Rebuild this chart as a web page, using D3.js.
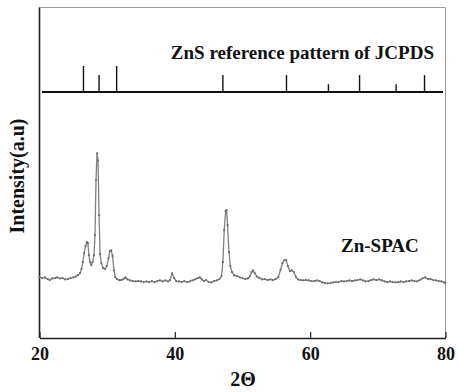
<!DOCTYPE html>
<html>
<head>
<meta charset="utf-8">
<script src="https://cdn.jsdelivr.net/npm/d3@7"></script>
<style>
  html, body { margin: 0; padding: 0; background: #fff; }
  svg text { font-family: "Liberation Serif", "Times New Roman", serif; font-weight: bold; fill: #111; }
</style>
</head>
<body>
<svg id="chart" width="459" height="392"></svg>
<script>
// ---- data ----
const twoTheta = [20.0,20.4,20.8,21.2,21.5,21.9,22.3,22.6,23.0,23.4,23.8,24.2,24.6,25.0,25.4,25.7,26.0,26.2,26.4,26.6,26.8,27.0,27.15,27.3,27.45,27.65,27.85,28.05,28.2,28.35,28.5,28.65,28.8,28.95,29.15,29.4,29.7,29.95,30.2,30.4,30.6,30.8,31.0,31.2,31.45,31.8,32.1,32.4,32.7,33.0,33.4,33.8,34.2,34.6,35.0,35.4,35.8,36.2,36.6,37.0,37.4,37.8,38.2,38.6,39.0,39.3,39.6,39.9,40.2,40.6,41.0,41.4,41.8,42.2,42.6,43.0,43.4,43.7,44.0,44.3,44.6,45.0,45.4,45.8,46.2,46.6,46.9,47.1,47.3,47.5,47.65,47.8,48.0,48.2,48.45,48.8,49.2,49.6,50.0,50.4,50.8,51.1,51.35,51.55,51.8,52.1,52.5,52.9,53.3,53.7,54.1,54.5,54.9,55.3,55.6,55.9,56.2,56.45,56.7,57.0,57.3,57.6,57.9,58.2,58.6,59.0,59.4,59.8,60.2,60.6,61.0,61.4,61.8,62.2,62.6,63.0,63.4,63.8,64.2,64.6,65.0,65.4,65.8,66.2,66.6,67.0,67.4,67.8,68.2,68.6,69.0,69.4,69.8,70.2,70.6,71.0,71.4,71.8,72.2,72.6,73.0,73.4,73.8,74.2,74.6,75.0,75.4,75.8,76.2,76.6,77.0,77.4,77.8,78.2,78.6,79.0,79.4,79.8,80.0];
const intensity = [183,180,182,177,174,179,180,182,179,180,176,177,180,182,185,189,195,207,228,255,276,288,285,249,228,219,228,249,309,474,555,534,369,252,225,210,207,216,240,261,263,246,204,183,177,174,174,177,182,176,173,171,170,171,170,168,170,168,171,168,171,173,170,173,170,174,194,180,171,170,168,171,168,170,173,176,180,182,176,171,174,168,167,171,173,177,186,228,324,381,384,339,258,216,198,188,186,182,180,177,179,186,198,203,195,185,180,176,177,174,176,174,177,183,204,225,234,234,216,201,203,198,183,176,174,173,174,173,171,171,173,171,167,165,164,165,167,168,168,171,170,171,173,171,173,174,176,173,170,171,174,176,174,176,173,170,168,170,168,167,168,170,168,170,171,173,171,170,174,179,182,177,177,174,173,171,170,167,165,164];
const refPeaks = [26.5,28.8,31.4,47.1,56.5,62.7,67.3,72.7,76.9];
const refIntensity = [100,65,100,65,65,30,65,30,65];
const xTicks = [20,40,60,80];

// ---- layout ----
const svg = d3.select("#chart");
const mL = 39.5, mR = 445.5, mT = 7.5, mB = 338;

const x = d3.scaleLinear().domain([20, 80]).range([mL, mR]);
const y = d3.scaleLinear().domain([0, 993]).range([mB, mT]);
const refBase = 92;
const yRef = d3.scaleLinear().domain([0, 100]).range([refBase, refBase - 26]);

// frame: top & right light
svg.append("line").attr("x1", mL).attr("x2", mR).attr("y1", mT).attr("y2", mT)
  .attr("stroke", "#999").attr("stroke-width", 1);
svg.append("line").attr("x1", mR).attr("x2", mR).attr("y1", mT).attr("y2", mB)
  .attr("stroke", "#999").attr("stroke-width", 1);

// bottom axis with inward ticks
const xAxis = d3.axisBottom(x).tickValues(xTicks).tickSizeInner(-6).tickSizeOuter(0).tickPadding(9);
const gx = svg.append("g").attr("transform", `translate(0,${mB})`).call(xAxis);
gx.select(".domain").attr("stroke", "#222").attr("stroke-width", 1.6);
gx.selectAll(".tick line").attr("stroke", "#222").attr("stroke-width", 1.2);
gx.selectAll(".tick text").attr("font-size", 18).attr("fill", "#111")
  .attr("font-family", "Liberation Serif, serif").attr("font-weight", "bold");

// left axis line
svg.append("line").attr("x1", mL).attr("x2", mL).attr("y1", mT).attr("y2", mB)
  .attr("stroke", "#222").attr("stroke-width", 1.6);

// reference pattern
svg.append("line").attr("x1", 42).attr("x2", 443).attr("y1", refBase).attr("y2", refBase)
  .attr("stroke", "#111").attr("stroke-width", 2);
svg.selectAll(".ref").data(refPeaks).enter().append("line")
  .attr("x1", d => x(d)).attr("x2", d => x(d))
  .attr("y1", refBase).attr("y2", (d, i) => yRef(refIntensity[i]))
  .attr("stroke", "#111").attr("stroke-width", 1.4);

svg.append("text").attr("x", 434).attr("y", 59).attr("text-anchor", "end")
  .attr("font-size", 19).text("ZnS reference pattern of JCPDS");

// data curve
const pts = d3.zip(twoTheta, intensity);
const line = d3.line().x(d => x(d[0])).y(d => y(d[1]));
svg.append("path").datum(pts).attr("d", line)
  .attr("fill", "none").attr("stroke", "#808080").attr("stroke-width", 1.3);
svg.selectAll(".pt").data(pts).enter().append("circle")
  .attr("cx", d => x(d[0])).attr("cy", d => y(d[1])).attr("r", 1.1)
  .attr("fill", "#6e6e6e");

svg.append("text").attr("x", 341).attr("y", 252).attr("font-size", 19).text("Zn-SPAC");

// axis titles
svg.append("text").attr("x", 243).attr("y", 386).attr("text-anchor", "middle")
  .attr("font-size", 20).text("2Θ");
svg.append("text").attr("transform", "translate(24,176) rotate(-90)")
  .attr("text-anchor", "middle").attr("font-size", 20).text("Intensity(a.u)");
</script>
</body>
</html>
